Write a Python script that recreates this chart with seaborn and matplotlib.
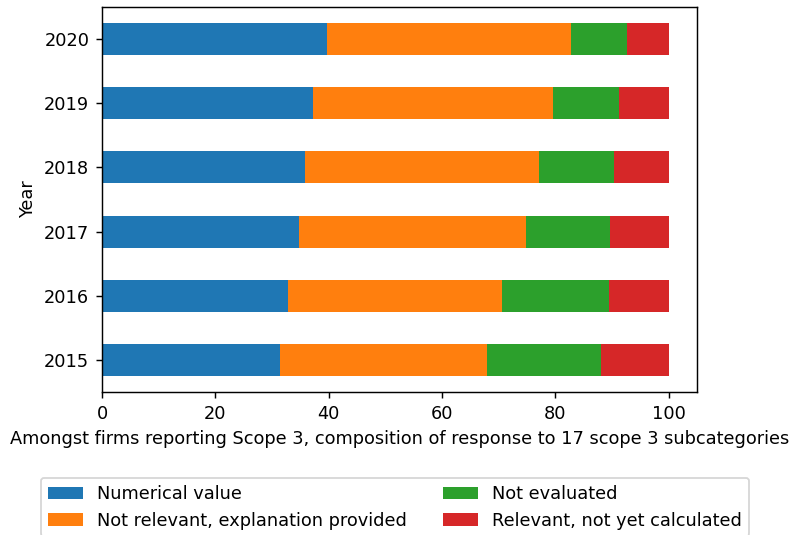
import numpy as np
import pandas as pd
import seaborn as sns
import matplotlib.pyplot as plt

# data (percent of the 17 scope 3 subcategories)
years = ["2015", "2016", "2017", "2018", "2019", "2020"]
numerical_value = [31.4, 32.9, 34.8, 35.9, 37.3, 39.7]
not_relevant = [36.5, 37.7, 40.1, 41.3, 42.3, 43.1]
not_evaluated = [20.2, 18.9, 14.8, 13.2, 11.7, 9.9]
relevant_not_calc = [11.9, 10.5, 10.3, 9.6, 8.7, 7.3]

labels = ["Numerical value", "Not relevant, explanation provided",
          "Not evaluated", "Relevant, not yet calculated"]
colors = ["#1f77b4", "#ff7f0e", "#2ca02c", "#d62728"]

df = pd.DataFrame({
    "Year": years,
    labels[0]: numerical_value,
    labels[1]: not_relevant,
    labels[2]: not_evaluated,
    labels[3]: relevant_not_calc,
})

# cumulative totals so bars can be layered (stacked look)
cum = df[labels].cumsum(axis=1)
cum["Year"] = df["Year"]

plt.rcParams["font.size"] = 9.8

fig = plt.figure(figsize=(790 / 130, 535 / 130), dpi=130)
ax = fig.add_axes([102 / 790, 1 - 392 / 535, 595 / 790, 385 / 535])

order = years[::-1]
# draw from the widest (rightmost) segment to the narrowest
for lab, col in reversed(list(zip(labels, colors))):
    sns.barplot(data=cum, x=lab, y="Year", order=order, color=col,
                width=0.5, orient="h", saturation=1, ax=ax, label=lab)

ax.set_xlim(0, 105)
ax.set_ylim(len(years) - 0.5, -0.5)
ax.set_xlabel("Amongst firms reporting Scope 3, composition of response to 17 scope 3 subcategories")
ax.set_ylabel("Year")

handles, hl = ax.get_legend_handles_labels()
hmap = dict(zip(hl, handles))
ax.legend([hmap[l] for l in labels], labels, ncol=2, loc="upper center",
          bbox_to_anchor=(0.5, 1 - 469 / 535), bbox_transform=fig.transFigure,
          frameon=True)

fig.savefig("out.png", dpi=130)
